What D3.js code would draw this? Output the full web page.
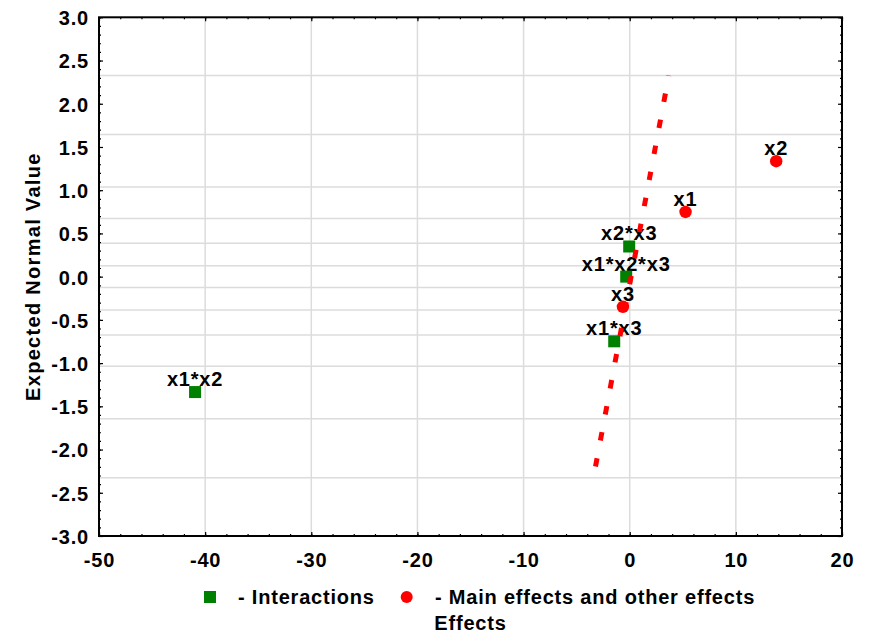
<!DOCTYPE html>
<html>
<head>
<meta charset="utf-8">
<script src="https://cdn.jsdelivr.net/npm/d3@7"></script>
<style>
  body { margin: 0; background: #fff; }
  text { font-family: "Liberation Sans", Arial, sans-serif; font-weight: bold; }
</style>
</head>
<body>
<script>
// effects
const effectLabels = ["x1*x2", "x1*x3", "x3", "x1*x2*x3", "x2*x3", "x1", "x2"]
const effectValues = [-40.95, -1.46, -0.64, -0.33, -0.05, 5.26, 13.8]
const expectedNormal = [-1.335, -0.748, -0.349, 0, 0.349, 0.748, 1.335]
const effectGroup = ["Interactions", "Interactions", "Main", "Interactions", "Interactions", "Main", "Main"]

// reference line (effect at top end, effect at bottom end)
const refLineEffect = [3.68, -3.42]
const refLineNormal = [2.326, -2.326]

// probability grid (normal quantiles of .01 .05 .15 ... .95 .99)
const gridZ = [-2.326, -1.645, -1.036, -0.674, -0.385, -0.126, 0.126, 0.385, 0.674, 1.036, 1.645, 2.326]

const xTicks = [-50, -40, -30, -20, -10, 0, 10, 20]
const yTicks = [-3, -2.5, -2, -1.5, -1, -0.5, 0, 0.5, 1, 1.5, 2, 2.5, 3]

const legendNames = ["- Interactions", "- Main effects and other effects"]

const width = 871
const height = 633
const plotLeft = 99, plotRight = 842, plotTop = 17.3, plotBottom = 536
const fontSize = '20px'
const spacing = '0.8px'

const svg = d3.select('body').append('svg')
  .attr('width', width)
  .attr('height', height)

const x = d3.scaleLinear().domain([-50, 20]).range([plotLeft, plotRight])
const y = d3.scaleLinear().domain([-3, 3]).range([plotBottom, plotTop])

// grid
svg.append('g').selectAll('line')
  .data(xTicks.slice(1, -1))
  .enter().append('line')
  .attr('x1', d => x(d)).attr('x2', d => x(d))
  .attr('y1', plotTop).attr('y2', plotBottom)
  .attr('stroke', '#dcdcdc').attr('stroke-width', 1.5)

svg.append('g').selectAll('line')
  .data(gridZ)
  .enter().append('line')
  .attr('x1', plotLeft).attr('x2', plotRight)
  .attr('y1', d => y(d)).attr('y2', d => y(d))
  .attr('stroke', '#dcdcdc').attr('stroke-width', 1.5)

// axes, ticks point inward
const minorX = d3.range(-50, 20.01, 2)
const minorY = d3.range(-3, 3.001, 0.1)

const styleAxis = g => {
  g.select('.domain').remove()
  g.selectAll('line').attr('stroke', '#000').attr('stroke-width', 1.2)
  g.selectAll('text')
    .attr('fill', '#000')
    .style('font-size', fontSize)
    .style('letter-spacing', spacing)
    .style('font-family', '"Liberation Sans", Arial, sans-serif')
    .style('font-weight', 'bold')
}

svg.append('g').attr('transform', 'translate(0,' + plotBottom + ')')
  .call(d3.axisBottom(x).tickValues(minorX).tickSize(-2).tickFormat(''))
  .call(styleAxis)
svg.append('g').attr('transform', 'translate(0,' + plotTop + ')')
  .call(d3.axisTop(x).tickValues(minorX).tickSize(-2).tickFormat(''))
  .call(styleAxis)
svg.append('g').attr('transform', 'translate(' + plotLeft + ',0)')
  .call(d3.axisLeft(y).tickValues(minorY).tickSize(-2).tickFormat(''))
  .call(styleAxis)
svg.append('g').attr('transform', 'translate(' + plotRight + ',0)')
  .call(d3.axisRight(y).tickValues(minorY).tickSize(-2).tickFormat(''))
  .call(styleAxis)

svg.append('g').attr('transform', 'translate(0,' + plotBottom + ')')
  .call(d3.axisBottom(x).tickValues(xTicks).tickSize(-4).tickPadding(17).tickFormat(d => String(d)))
  .call(styleAxis)
svg.append('g').attr('transform', 'translate(0,' + plotTop + ')')
  .call(d3.axisTop(x).tickValues(xTicks).tickSize(-4).tickFormat(''))
  .call(styleAxis)
svg.append('g').attr('transform', 'translate(' + plotLeft + ',0)')
  .call(d3.axisLeft(y).tickValues(yTicks).tickSize(-4).tickPadding(10).tickFormat(d => d.toFixed(1)))
  .call(styleAxis)
  .selectAll('text').attr('dy', '0.37em')
svg.append('g').attr('transform', 'translate(' + plotRight + ',0)')
  .call(d3.axisRight(y).tickValues(yTicks).tickSize(-4).tickFormat(''))
  .call(styleAxis)

// frame
svg.append('rect')
  .attr('x', plotLeft).attr('y', plotTop)
  .attr('width', plotRight - plotLeft).attr('height', plotBottom - plotTop)
  .attr('fill', 'none').attr('stroke', '#000').attr('stroke-width', 2)

// point labels
const pts = effectLabels.map((d, i) => ({
  label: d, effect: effectValues[i], z: expectedNormal[i], group: effectGroup[i]
}))

svg.append('g').selectAll('text')
  .data(pts)
  .enter().append('text')
  .attr('x', d => x(d.effect))
  .attr('y', d => y(d.z) - 6)
  .attr('text-anchor', 'middle')
  .style('font-size', fontSize)
  .style('letter-spacing', spacing)
  .text(d => d.label)

// markers
svg.append('g').selectAll('rect')
  .data(pts.filter(d => d.group == 'Interactions'))
  .enter().append('rect')
  .attr('x', d => x(d.effect) - 6)
  .attr('y', d => y(d.z) - 6)
  .attr('width', 12).attr('height', 12)
  .attr('fill', '#008000')

svg.append('g').selectAll('circle')
  .data(pts.filter(d => d.group == 'Main'))
  .enter().append('circle')
  .attr('cx', d => x(d.effect))
  .attr('cy', d => y(d.z))
  .attr('r', 6.2)
  .attr('fill', '#ff0000')

// dashed reference line, drawn from the top end
const lineData = refLineEffect.map((d, i) => [d, refLineNormal[i]])
svg.append('path')
  .datum(lineData)
  .attr('d', d3.line().x(d => x(d[0])).y(d => y(d[1])))
  .attr('fill', 'none')
  .attr('stroke', '#ff0000')
  .attr('stroke-width', 5)
  .attr('stroke-dasharray', '8.5,18')
  .attr('stroke-dashoffset', 8.2)

// y title
svg.append('text')
  .attr('transform', 'translate(40,' + ((plotTop + plotBottom) / 2) + ') rotate(-90)')
  .attr('text-anchor', 'middle')
  .style('font-size', fontSize)
  .style('letter-spacing', '1.3px')
  .text('Expected Normal Value')

// legend
svg.append('rect')
  .attr('x', 204).attr('y', 591).attr('width', 12).attr('height', 12)
  .attr('fill', '#008000')
svg.append('circle')
  .attr('cx', 406.7).attr('cy', 597).attr('r', 6)
  .attr('fill', '#ff0000')
svg.append('g').selectAll('text')
  .data(legendNames)
  .enter().append('text')
  .attr('x', (d, i) => i == 0 ? 238 : 435)
  .attr('y', 604)
  .style('font-size', fontSize)
  .style('letter-spacing', spacing)
  .text(d => d)

// x title
svg.append('text')
  .attr('x', (plotLeft + plotRight) / 2)
  .attr('y', 630)
  .attr('text-anchor', 'middle')
  .style('font-size', fontSize)
  .style('letter-spacing', spacing)
  .text('Effects')
</script>
</body>
</html>
